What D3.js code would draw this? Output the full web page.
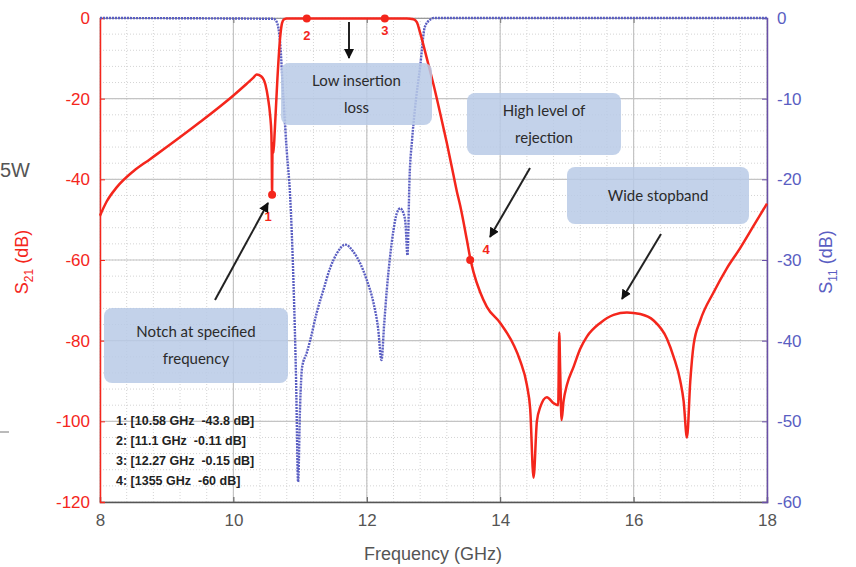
<!DOCTYPE html>
<html>
<head>
<meta charset="utf-8">
<script src="https://cdn.jsdelivr.net/npm/d3@7"></script>
<style>
  body { margin: 0; background: #fff; }
  svg { font-family: "Liberation Sans", Arial, sans-serif; }
  .note { font-family: Lato, "Open Sans", sans-serif; font-size: 15px; fill: #2b2b2b; }
</style>
</head>
<body>
<div class="graphContainer"></div>
<script>
var width = 856;
var height = 567;

// S21 (red, left axis)
var s21Freq = [8, 8.1, 8.25, 8.5, 8.75, 9.0, 9.5, 10.0, 10.2, 10.3, 10.35, 10.42, 10.48, 10.52, 10.55, 10.57, 10.575, 10.58, 10.585, 10.59, 10.6, 10.62, 10.66, 10.7, 10.73, 10.76, 10.8, 11.1, 12.27, 12.6, 12.7, 12.75, 12.8, 12.9, 13.0, 13.1, 13.2, 13.3, 13.35, 13.4, 13.5, 13.55, 13.6, 13.7, 13.8, 14.0, 14.2, 14.3, 14.4, 14.45, 14.5, 14.55, 14.6, 14.7, 14.8, 14.87, 14.885, 14.9, 14.92, 14.95, 15.0, 15.1, 15.2, 15.3, 15.5, 15.7, 15.9, 16.1, 16.3, 16.5, 16.6, 16.7, 16.75, 16.8, 16.85, 16.9, 17.0, 17.2, 17.4, 17.6, 17.8, 18.0];
var s21Db = [-49, -45.5, -42, -38, -35, -32, -25.8, -19.2, -16.3, -14.8, -14, -14.5, -16.5, -20, -24, -29, -34, -43.8, -34, -31, -33.5, -28, -15, -5, -1.2, -0.3, -0.1, -0.11, -0.15, -0.1, -0.3, -1, -3.7, -10, -16.5, -23.6, -31, -39, -43, -46.5, -55, -59.5, -63, -68, -71.6, -75.6, -81, -85, -91, -97, -114, -100, -96.5, -94, -95.5, -96, -78, -88, -99.7, -95, -91, -86.5, -82, -79, -75.6, -73.6, -73, -73.4, -75, -79.5, -84, -90, -95, -104, -90, -81, -75, -68, -62, -57, -51.5, -46];

// S11 (blue, right axis)
var s11Freq = [8, 10.6, 10.65, 10.7, 10.75, 10.8, 10.85, 10.9, 10.94, 10.97, 11.0, 11.03, 11.1, 11.15, 11.25, 11.35, 11.45, 11.55, 11.68, 11.8, 11.9, 12.0, 12.1, 12.17, 12.22, 12.26, 12.3, 12.35, 12.4, 12.45, 12.5, 12.55, 12.58, 12.61, 12.64, 12.68, 12.72, 12.8, 12.87, 12.95, 13.0, 18];
var s11Db = [0, -0.1, -0.5, -3, -10, -16.5, -22, -32.5, -45, -57.5, -48, -43.3, -41.5, -40, -36.5, -33.7, -31, -29.2, -28.1, -29, -30.4, -32.5, -35.3, -38.5, -42.4, -38, -33.7, -29.5, -26.3, -24.2, -23.6, -24.2, -25.5, -29.4, -20, -15, -11.4, -6, -1.1, -0.2, 0, 0];

// markers
var markerFreq = [10.58, 11.1, 12.27, 13.55];
var markerDb = [-43.8, -0.11, -0.15, -60];
var markerNames = ["1", "2", "3", "4"];
var markerLines = ["1: [10.58 GHz  -43.8 dB]", "2: [11.1 GHz  -0.11 dB]", "3: [12.27 GHz  -0.15 dB]", "4: [1355 GHz  -60 dB]"];

var xTicks = [8, 10, 12, 14, 16, 18];
var leftTicks = [0, -20, -40, -60, -80, -100, -120];
var rightTicks = [0, -10, -20, -30, -40, -50, -60];

var red = "#f4261c";
var blue = "#5a5ec2";
var plain = d => String(d);

var svg = d3.select(".graphContainer").append("svg")
  .attr("width", width).attr("height", height);

var x = d3.scaleLinear().domain([8, 18]).range([100, 767]);
var yL = d3.scaleLinear().domain([-120, 0]).range([502, 18]);
var yR = d3.scaleLinear().domain([-60, 0]).range([502, 18]);

// grid
var grid = svg.append("g");
grid.selectAll(".vmin").data(d3.range(8, 18.01, 0.4)).enter().append("line")
  .attr("x1", d => x(d)).attr("x2", d => x(d)).attr("y1", 18).attr("y2", 502)
  .attr("stroke", "#d4d4d4").attr("stroke-dasharray", "1,2");
grid.selectAll(".hmin").data(d3.range(-120, 0.01, 4)).enter().append("line")
  .attr("y1", d => yL(d)).attr("y2", d => yL(d)).attr("x1", 100).attr("x2", 767)
  .attr("stroke", "#d4d4d4").attr("stroke-dasharray", "1,2");
grid.selectAll(".vmaj").data(xTicks).enter().append("line")
  .attr("x1", d => x(d)).attr("x2", d => x(d)).attr("y1", 18).attr("y2", 502)
  .attr("stroke", "#c4c4c4").attr("stroke-width", 1.2);
grid.selectAll(".hmaj").data(leftTicks).enter().append("line")
  .attr("y1", d => yL(d)).attr("y2", d => yL(d)).attr("x1", 100).attr("x2", 767)
  .attr("stroke", "#c4c4c4").attr("stroke-width", 1.2);

// axes
var xAxis = svg.append("g").attr("transform", "translate(0,502)")
  .call(d3.axisBottom(x).tickValues(xTicks).tickSize(-5).tickPadding(12).tickFormat(plain));
xAxis.select(".domain").attr("stroke", "#555").attr("stroke-width", 1.5);
xAxis.selectAll("line").attr("stroke", "#555");
xAxis.selectAll("text").attr("fill", "#555").style("font-size", "17px");

var topAxis = svg.append("g").attr("transform", "translate(0,18)")
  .call(d3.axisTop(x).tickValues(xTicks).tickSize(-5).tickFormat(""));
topAxis.select(".domain").attr("stroke", "#999");
topAxis.selectAll("line").attr("stroke", "#777");

var leftAxis = svg.append("g").attr("transform", "translate(100,0)")
  .call(d3.axisLeft(yL).tickValues(leftTicks).tickSize(-5).tickPadding(10).tickFormat(plain));
leftAxis.select(".domain").attr("stroke", red).attr("stroke-width", 1.5);
leftAxis.selectAll("line").attr("stroke", red);
leftAxis.selectAll("text").attr("fill", red).style("font-size", "17px");

var rightAxis = svg.append("g").attr("transform", "translate(767,0)")
  .call(d3.axisRight(yR).tickValues(rightTicks).tickSize(-5).tickPadding(10).tickFormat(plain));
rightAxis.select(".domain").attr("stroke", "#6a4fa8").attr("stroke-width", 1.5);
rightAxis.selectAll("line").attr("stroke", "#6a4fa8");
rightAxis.selectAll("text").attr("fill", blue).style("font-size", "17px");

// axis titles
svg.append("text").attr("x", 433).attr("y", 560).attr("text-anchor", "middle")
  .attr("fill", "#555").style("font-size", "18px").text("Frequency (GHz)");

var lt = svg.append("text").attr("transform", "translate(28,262) rotate(-90)")
  .attr("text-anchor", "middle").attr("fill", red).style("font-size", "18px");
lt.append("tspan").text("S");
lt.append("tspan").attr("dy", 5).style("font-size", "12px").text("21");
lt.append("tspan").attr("dy", -5).text(" (dB)");

var rt = svg.append("text").attr("transform", "translate(832,262) rotate(-90)")
  .attr("text-anchor", "middle").attr("fill", blue).style("font-size", "18px");
rt.append("tspan").text("S");
rt.append("tspan").attr("dy", 5).style("font-size", "12px").text("11");
rt.append("tspan").attr("dy", -5).text(" (dB)");

// curves
var s21 = s21Freq.map((f, i) => [f, s21Db[i]]);
var s11 = s11Freq.map((f, i) => [f, s11Db[i]]);

svg.append("path").datum(s11)
  .attr("d", d3.line().x(d => x(d[0])).y(d => yR(d[1])).curve(d3.curveMonotoneX))
  .attr("fill", "none").attr("stroke", blue).attr("stroke-width", 2.4)
  .attr("stroke-dasharray", "2,1");

svg.append("path").datum(s21)
  .attr("d", d3.line().x(d => x(d[0])).y(d => yL(d[1])).curve(d3.curveMonotoneX))
  .attr("fill", "none").attr("stroke", red).attr("stroke-width", 2.5);

// markers
svg.selectAll(".mk").data(markerFreq).enter().append("circle")
  .attr("cx", d => x(d)).attr("cy", (d, i) => yL(markerDb[i])).attr("r", 4).attr("fill", red);

var nameOff = [[-4, 26], [0, 22], [0, 16], [16, -6]];
svg.selectAll(".mkn").data(markerNames).enter().append("text")
  .attr("x", (d, i) => x(markerFreq[i]) + nameOff[i][0])
  .attr("y", (d, i) => yL(markerDb[i]) + nameOff[i][1])
  .attr("text-anchor", "middle").attr("fill", red)
  .style("font-size", "13px").style("font-weight", "bold").text(d => d);

// annotation boxes
var boxes = [
  { x: 281, y: 63, w: 151, h: 62, lines: ["Low insertion", "loss"] },
  { x: 467, y: 93, w: 154, h: 62, lines: ["High level of", "rejection"] },
  { x: 567, y: 167, w: 182, h: 57, lines: ["Wide stopband"] },
  { x: 104, y: 308, w: 184, h: 75, lines: ["Notch at specified", "frequency"] }
];
boxes.forEach(function (b) {
  svg.append("rect").attr("x", b.x).attr("y", b.y).attr("width", b.w).attr("height", b.h)
    .attr("rx", 8).attr("fill", "#b9cae6").attr("opacity", 0.85);
  var n = b.lines.length;
  b.lines.forEach(function (t, i) {
    svg.append("text").attr("class", "note")
      .attr("x", b.x + b.w / 2)
      .attr("y", b.y + b.h / 2 + (i - (n - 1) / 2) * 27 + 5)
      .attr("text-anchor", "middle").text(t);
  });
});

// arrows
svg.append("defs").append("marker").attr("id", "arr")
  .attr("viewBox", "0 0 10 10").attr("refX", 9).attr("refY", 5)
  .attr("markerWidth", 5).attr("markerHeight", 5).attr("orient", "auto")
  .append("path").attr("d", "M0,0L10,5L0,10z").attr("fill", "#111");

var arrows = [[349, 22, 349, 58], [530, 168, 490, 237], [661, 234, 622, 299], [215, 300, 268, 203]];
arrows.forEach(function (a) {
  svg.append("line").attr("x1", a[0]).attr("y1", a[1]).attr("x2", a[2]).attr("y2", a[3])
    .attr("stroke", "#222").attr("stroke-width", 2).attr("marker-end", "url(#arr)");
});

// marker readout
svg.selectAll(".ro").data(markerLines).enter().append("text")
  .attr("x", 116).attr("y", (d, i) => 425 + i * 20)
  .attr("fill", "#222").style("font-size", "12.5px").style("font-weight", "bold")
  .attr("xml:space", "preserve").style("white-space", "pre").text(d => d);

// stray bits from the crop
svg.append("text").attr("x", 0).attr("y", 177).attr("fill", "#555")
  .style("font-size", "20px").text("5W");
svg.append("line").attr("x1", 0).attr("x2", 9).attr("y1", 432).attr("y2", 432)
  .attr("stroke", "#777");
</script>
</body>
</html>
